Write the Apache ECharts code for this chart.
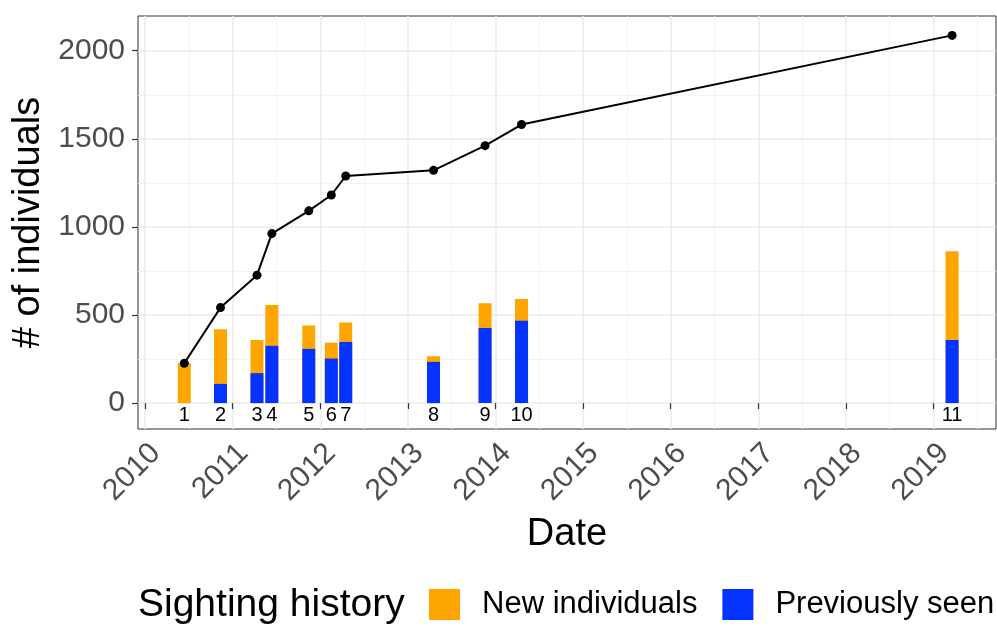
<!DOCTYPE html>
<html>
<head>
<meta charset="utf-8">
<script src="https://cdn.jsdelivr.net/npm/echarts@6/dist/echarts.min.js"></script>
<style>
html,body{margin:0;padding:0;background:#fff;}
#chart{width:997px;height:631px;}
</style>
</head>
<body>
<div id="chart"></div>
<script>
// ---- data ----
const sightingDates = ['2010-06-13','2010-11-11','2011-04-12','2011-06-13','2011-11-14','2012-02-16','2012-04-16','2013-04-17','2013-11-18','2014-04-19','2019-03-19'];
const sightingLabels = ['1','2','3','4','5','6','7','8','9','10','11'];
const previouslySeen = [0,109,170,325,308,253,347,234,426,468,358];
const newIndividuals = [226,310,188,232,132,90,110,32,140,123,504];
const cumulativeTotal = [226,542,726,962,1091,1181,1289,1321,1461,1581,2087];
const xTickYears = [2010,2011,2012,2013,2014,2015,2016,2017,2018,2019];
const yTicks = [0,500,1000,1500,2000];
const yMinorTicks = [250,750,1250,1750];

const FONT = 'Liberation Sans, Arial, Helvetica, sans-serif';
const toMs = d => Date.parse(d + 'T00:00:00Z');
const xMajor = xTickYears.map(y => Date.UTC(y, 0, 1));
const xMinor = xTickYears.map(y => Date.UTC(y, 6, 2));
const xMin = Date.UTC(2009, 11, 2);
const xMax = Date.UTC(2019, 8, 18);
const yMin = -147, yMax = 2197;

const pairs = vals => sightingDates.map((d, i) => [toMs(d), vals[i]]);
// stacked layout: the "new individuals" segment sits on top of "previously seen"
const stackTop = previouslySeen.map((v, i) => v + newIndividuals[i]);

const chart = echarts.init(document.getElementById('chart'), null, {renderer: 'canvas'});
chart.setOption({
  animation: false,
  backgroundColor: '#fff',
  textStyle: {fontFamily: FONT},
  grid: {left: 138, top: 16, width: 858, height: 413, show: true, borderColor: '#333333', borderWidth: 1, backgroundColor: '#fff', containLabel: false, outerBoundsMode: 'none'},
  graphic: [{
    type: 'text', x: 138, y: 605,
    style: {text: 'Sighting history', fontFamily: FONT, fontSize: 39, fill: '#000', align: 'left', verticalAlign: 'middle'}
  }],
  legend: {
    data: ['New individuals', 'Previously seen'],
    left: 429, top: 589, padding: 0,
    orient: 'horizontal', icon: 'rect', itemWidth: 31, itemHeight: 31, itemGap: 25,
    selectedMode: false,
    textStyle: {fontFamily: FONT, fontSize: 31, color: '#000', lineHeight: 31, padding: [0, 0, 0, 17]}
  },
  xAxis: [{
    type: 'value', min: xMin, max: xMax, position: 'bottom',
    name: 'Date', nameLocation: 'middle', nameGap: 87,
    nameTextStyle: {fontFamily: FONT, fontSize: 38, color: '#000'},
    axisLine: {show: false},
    axisTick: {show: true, length: 6, customValues: xMajor, lineStyle: {color: '#333333', width: 1.2}},
    axisLabel: {
      show: true, customValues: xMajor, rotate: 45, margin: 9, align: 'right', verticalAlign: 'top',
      fontFamily: FONT, fontSize: 30, color: '#4D4D4D',
      formatter: v => String(new Date(v).getUTCFullYear())
    },
    splitLine: {show: true, lineStyle: {color: '#EBEBEB', width: 1.5}}
  }, {
    type: 'value', min: xMin, max: xMax, position: 'top',
    axisLine: {show: false},
    axisTick: {show: false, customValues: xMinor},
    axisLabel: {show: false},
    splitLine: {show: true, lineStyle: {color: '#F3F3F3', width: 1}}
  }],
  yAxis: [{
    type: 'value', min: yMin, max: yMax, position: 'left',
    name: '# of individuals', nameLocation: 'middle', nameGap: 88, nameRotate: 90,
    nameTextStyle: {fontFamily: FONT, fontSize: 38, color: '#000'},
    axisLine: {show: false},
    axisTick: {show: true, length: 6, customValues: yTicks, lineStyle: {color: '#333333', width: 1.2}},
    axisLabel: {show: true, customValues: yTicks, margin: 13, fontFamily: FONT, fontSize: 30, color: '#4D4D4D', formatter: v => String(v)},
    splitLine: {show: true, lineStyle: {color: '#EBEBEB', width: 1.5}}
  }, {
    type: 'value', min: yMin, max: yMax, position: 'right',
    axisLine: {show: false},
    axisTick: {show: false, customValues: yMinorTicks},
    axisLabel: {show: false},
    splitLine: {show: true, lineStyle: {color: '#F3F3F3', width: 1}}
  }],
  series: [{
    name: 'New individuals', type: 'bar', xAxisIndex: 0, yAxisIndex: 0,
    barWidth: 13, barGap: '-100%', itemStyle: {color: '#FFA500'},
    data: pairs(stackTop),
    z: 2
  }, {
    name: 'Previously seen', type: 'bar', xAxisIndex: 0, yAxisIndex: 0,
    barWidth: 13, barGap: '-100%', itemStyle: {color: '#0433FF'},
    data: pairs(previouslySeen),
    label: {
      show: true, position: 'bottom', distance: 2,
      fontFamily: FONT, fontSize: 20, color: '#000',
      formatter: p => sightingLabels[p.dataIndex]
    },
    z: 3
  }, {
    name: 'Cumulative', type: 'line', xAxisIndex: 0, yAxisIndex: 0,
    data: pairs(cumulativeTotal),
    symbol: 'circle', symbolSize: 9,
    lineStyle: {color: '#000', width: 2},
    itemStyle: {color: '#000'},
    z: 5
  }]
});
</script>
</body>
</html>
